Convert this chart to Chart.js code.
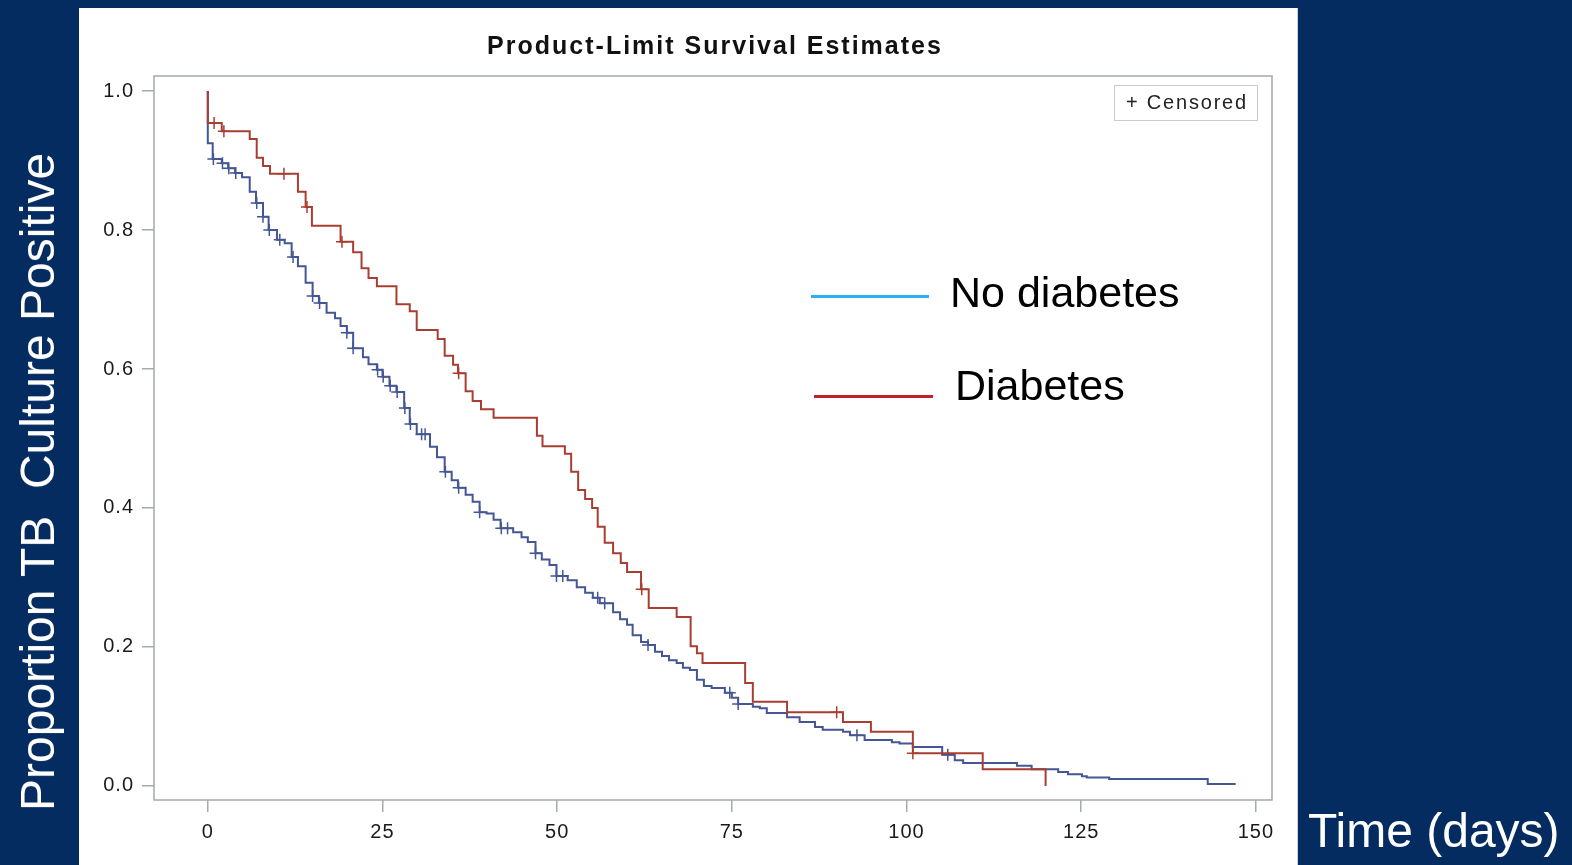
<!DOCTYPE html>
<html>
<head>
<meta charset="utf-8">
<script src="https://cdn.jsdelivr.net/npm/chart.js@4"></script>
<style>
body{margin:0;background:#052c61;width:1572px;height:865px;overflow:hidden;position:relative;font-family:"Liberation Sans",Arial,sans-serif}
#panel{position:absolute;left:79px;top:8px;width:1218px;height:857px;background:#fff;border-right:1px solid #cdd2d6}
#myChart{position:absolute;left:0;top:0}
.txt{position:absolute;white-space:nowrap;line-height:1}
.key{position:absolute;height:3px}
</style>
</head>
<body>
<div id="panel"></div>
<canvas id="myChart" width="1572" height="865"></canvas>

<div class="key" style="left:811px;top:295px;width:118px;background:#2cb2ee"></div>
<div class="txt" style="left:950px;top:271px;font-size:43px;color:#000">No diabetes</div>
<div class="key" style="left:814px;top:395px;width:119px;background:#c0202a"></div>
<div class="txt" style="left:955px;top:364px;font-size:43px;color:#000">Diabetes</div>
<div class="txt" style="left:1308px;top:807px;font-size:48px;color:#fff">Time (days)</div>
<div class="txt" style="left:38px;top:482px;font-size:48px;color:#fff;transform:translate(-50%,-50%) rotate(-90deg)">Proportion TB&nbsp; Culture Positive</div>

<script>
// x axis / y axis ticks
const xTicks = [0, 25, 50, 75, 100, 125, 150];
const yTicks = [0.0, 0.2, 0.4, 0.6, 0.8, 1.0];

// No diabetes: step times and survival after each step
const noDiabTime = [0, 0, 0.7, 2.0, 2.9, 3.9, 4.9, 6.0, 6.9, 7.9,
  8.7, 9.9, 11.0, 12.0, 12.9, 14.0, 15.0, 15.9, 17.0, 18.2,
  19.0, 19.9, 20.8, 22.2, 23.0, 24.2, 25.0, 26.0, 27.0, 28.1,
  28.9, 29.9, 31.8, 32.8, 33.9, 34.9, 35.8, 36.9, 37.9, 38.9,
  39.9, 40.9, 41.9, 43.7, 44.9, 45.8, 46.9, 47.8, 48.9, 49.9,
  51.5, 52.8, 54.0, 55.1, 56.1, 58.0, 59.0, 60.0, 60.8, 62.0,
  63.0, 64.0, 65.0, 66.0, 67.1, 68.0, 69.0, 70.0, 71.0, 72.1,
  74.0, 75.0, 75.9, 78.0, 79.0, 80.0, 82.9, 84.7, 86.9, 88.0,
  90.9, 91.9, 94.0, 97.9, 99.0, 100.9, 105.1, 106.9, 108.1, 115.8,
  117.9, 121.7, 123.1, 125.1, 125.8, 129.0, 143.1, 147.1];
const noDiabSurv = [1.0, 0.925, 0.902, 0.896, 0.889, 0.882, 0.876, 0.855, 0.839, 0.819,
  0.800, 0.786, 0.781, 0.761, 0.748, 0.724, 0.705, 0.695, 0.681, 0.673,
  0.662, 0.652, 0.630, 0.617, 0.607, 0.599, 0.589, 0.576, 0.567, 0.544,
  0.521, 0.506, 0.488, 0.473, 0.452, 0.440, 0.429, 0.419, 0.409, 0.394,
  0.392, 0.383, 0.371, 0.365, 0.358, 0.351, 0.335, 0.326, 0.318, 0.302,
  0.296, 0.286, 0.278, 0.271, 0.263, 0.250, 0.240, 0.232, 0.217, 0.207,
  0.203, 0.193, 0.187, 0.181, 0.177, 0.170, 0.167, 0.153, 0.144, 0.141,
  0.134, 0.127, 0.118, 0.114, 0.112, 0.105, 0.099, 0.092, 0.085, 0.081,
  0.078, 0.073, 0.066, 0.063, 0.061, 0.056, 0.045, 0.037, 0.033, 0.029,
  0.024, 0.020, 0.017, 0.014, 0.012, 0.010, 0.003, 0.003];
const noDiabCensTime = [0.8, 2.1, 3.0, 4.0, 7.0, 7.9, 8.8, 10.3, 12.2, 15.0,
  16.0, 19.9, 20.8, 24.3, 25.1, 26.1, 27.1, 28.2, 29.0, 30.6,
  31.1, 34.0, 35.9, 38.9, 42.0, 42.9, 46.9, 49.9, 50.8, 55.8,
  56.8, 63.0, 74.7, 75.9, 92.9, 105.9];
const noDiabCensSurv = [0.902, 0.896, 0.889, 0.882, 0.839, 0.819, 0.800, 0.786, 0.761, 0.705,
  0.695, 0.652, 0.630, 0.599, 0.589, 0.576, 0.567, 0.544, 0.521, 0.506,
  0.506, 0.452, 0.429, 0.394, 0.371, 0.371, 0.335, 0.302, 0.302, 0.271,
  0.263, 0.203, 0.134, 0.118, 0.073, 0.045];

// Diabetes
const diabTime = [0, 0, 2.0, 6.0, 7.0, 7.9, 8.9, 12.9, 14.0, 14.9,
  19.0, 20.8, 22.0, 23.0, 24.2, 27.0, 28.9, 29.9, 32.9, 33.9,
  35.1, 35.8, 36.9, 37.9, 39.1, 40.9, 47.1, 47.9, 51.1, 52.0,
  53.0, 54.0, 55.0, 55.8, 56.8, 58.0, 59.1, 60.0, 62.0, 63.1,
  67.1, 69.1, 70.0, 70.8, 76.9, 78.0, 82.9, 90.9, 94.9, 100.9,
  110.9, 119.9];
const diabSurv = [1.0, 0.954, 0.942, 0.931, 0.904, 0.892, 0.881, 0.855, 0.833, 0.806,
  0.783, 0.768, 0.745, 0.731, 0.719, 0.693, 0.683, 0.656, 0.643, 0.619,
  0.606, 0.594, 0.568, 0.554, 0.542, 0.530, 0.504, 0.489, 0.478, 0.452,
  0.426, 0.413, 0.400, 0.373, 0.350, 0.335, 0.321, 0.308, 0.283, 0.256,
  0.243, 0.201, 0.191, 0.177, 0.148, 0.121, 0.106, 0.092, 0.078, 0.047,
  0.024, 0.0];
const diabCensTime = [0.9, 2.3, 10.9, 14.2, 19.2, 35.9, 62.1, 90.0, 100.9];
const diabCensSurv = [0.954, 0.942, 0.881, 0.833, 0.783, 0.594, 0.283, 0.106, 0.047];

const blue = '#445694';
const red = '#a83e32';
const fontFam = '"Liberation Sans", Arial, sans-serif';

function pts(xs, ys) {
    return xs.map((x, i) => ({x: x, y: ys[i]}));
}

const framePlugin = {
    id: 'frame',
    beforeDraw(chart) {
        chart.ctx.letterSpacing = '1px';
    },
    beforeDatasetsDraw(chart) {
        const a = chart.chartArea, ctx = chart.ctx;
        ctx.save();
        ctx.strokeStyle = '#a5a9ad';
        ctx.lineWidth = 1.5;
        ctx.strokeRect(a.left, a.top, a.right - a.left, a.bottom - a.top);
        ctx.restore();
    },
    afterDraw(chart) {
        const a = chart.chartArea, ctx = chart.ctx;
        ctx.save();
        // title
        ctx.letterSpacing = '2px';
        ctx.font = 'bold 25px ' + fontFam;
        ctx.fillStyle = '#111';
        ctx.textAlign = 'center';
        ctx.textBaseline = 'middle';
        ctx.fillText('Product-Limit Survival Estimates', (a.left + a.right) / 2 + 2, 47);
        // censored key
        ctx.strokeStyle = '#c8cbce';
        ctx.lineWidth = 1;
        ctx.strokeRect(a.right - 157.5, a.top + 9.5, 143, 35);
        ctx.letterSpacing = '1.8px';
        ctx.font = '20px ' + fontFam;
        ctx.fillStyle = '#222';
        ctx.textAlign = 'left';
        ctx.fillText('+ Censored', a.right - 146, a.top + 27);
        ctx.restore();
    }
};

const ctx = document.getElementById('myChart').getContext('2d');

const myChart = new Chart(ctx, {
    type: 'line',
    data: {
        datasets: [{
            label: 'Diabetes',
            data: pts(diabTime, diabSurv),
            stepped: 'before',
            borderColor: red,
            borderWidth: 2,
            pointRadius: 0,
            fill: false,
            order: 1
        }, {
            label: 'Diabetes censored',
            data: pts(diabCensTime, diabCensSurv),
            showLine: false,
            pointStyle: 'cross',
            pointRadius: 6,
            pointBorderWidth: 1.5,
            borderColor: red,
            order: 0
        }, {
            label: 'No diabetes',
            data: pts(noDiabTime, noDiabSurv),
            stepped: 'before',
            borderColor: blue,
            borderWidth: 2,
            pointRadius: 0,
            fill: false,
            order: 3
        }, {
            label: 'No diabetes censored',
            data: pts(noDiabCensTime, noDiabCensSurv),
            showLine: false,
            pointStyle: 'cross',
            pointRadius: 6,
            pointBorderWidth: 1.5,
            borderColor: blue,
            order: 2
        }]
    },
    options: {
        responsive: false,
        animation: false,
        layout: {padding: {left: 0, top: 76, right: 300, bottom: 0}},
        plugins: {legend: {display: false}, tooltip: {enabled: false}, title: {display: false}},
        scales: {
            x: {
                type: 'linear',
                min: -7.7,
                max: 152.3,
                afterBuildTicks: s => { s.ticks = xTicks.map(v => ({value: v})); },
                afterFit: s => { s.height = 65; },
                ticks: {
                    callback: v => String(v),
                    font: {size: 20, family: fontFam},
                    color: '#1a1a1a',
                    padding: 8,
                    maxRotation: 0,
                    autoSkip: false
                },
                grid: {drawOnChartArea: false, drawTicks: true, tickLength: 12, color: '#a5a9ad', lineWidth: 1.5},
                border: {display: false}
            },
            y: {
                type: 'linear',
                min: -0.0202,
                max: 1.0216,
                afterBuildTicks: s => { s.ticks = yTicks.map(v => ({value: v})); },
                afterFit: s => { s.width = 154; },
                ticks: {
                    callback: v => v.toFixed(1),
                    font: {size: 20, family: fontFam},
                    color: '#1a1a1a',
                    padding: 8,
                    autoSkip: false
                },
                grid: {drawOnChartArea: false, drawTicks: true, tickLength: 12, color: '#a5a9ad', lineWidth: 1.5},
                border: {display: false}
            }
        }
    },
    plugins: [framePlugin]
});
</script>
</body>
</html>
